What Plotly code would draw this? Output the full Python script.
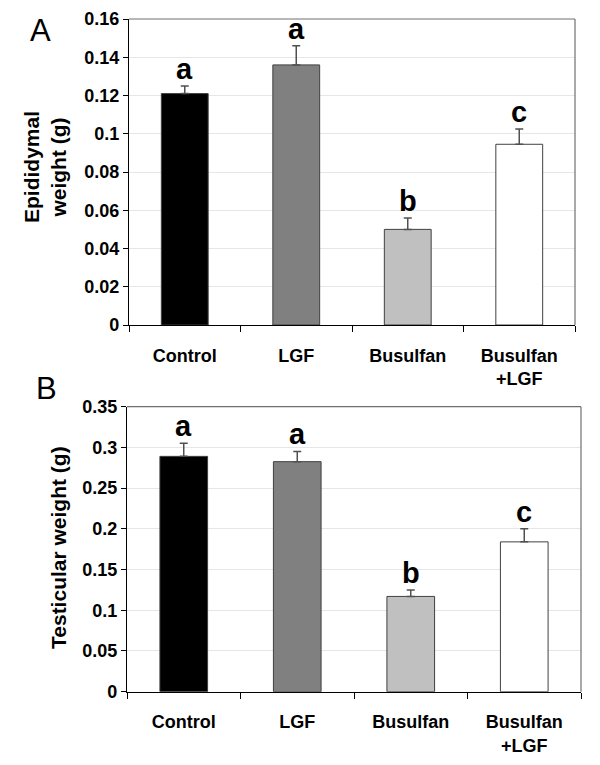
import plotly.graph_objects as go

categories = ["Control", "LGF", "Busulfan", "Busulfan<br>+LGF"]
colors = ["#000000", "#808080", "#c0c0c0", "#ffffff"]

epi_values = [0.121, 0.136, 0.050, 0.0945]
epi_errors = [0.004, 0.010, 0.006, 0.008]
epi_letters = ["a", "a", "b", "c"]

tes_values = [0.289, 0.2825, 0.117, 0.184]
tes_errors = [0.016, 0.0125, 0.008, 0.016]
tes_letters = ["a", "a", "b", "c"]

epi_ticks = [0, 0.02, 0.04, 0.06, 0.08, 0.1, 0.12, 0.14, 0.16]
epi_ticktext = ["0", "0.02", "0.04", "0.06", "0.08", "0.1", "0.12", "0.14", "0.16"]
tes_ticks = [0, 0.05, 0.1, 0.15, 0.2, 0.25, 0.3, 0.35]
tes_ticktext = ["0", "0.05", "0.1", "0.15", "0.2", "0.25", "0.3", "0.35"]

FONT = "Liberation Sans, Arial, sans-serif"
OFF = 8  # page body margin
W, H = 600 - OFF, 765 - OFF

fig = go.Figure()

def add_panel(values, errors, xa, ya):
    fig.add_trace(go.Bar(
        x=categories, y=values,
        marker=dict(color=colors, line=dict(color="#404040", width=1)),
        width=0.42,
        error_y=dict(type="data", array=errors, arrayminus=[0]*len(errors),
                     symmetric=False, color="#505050", thickness=1.5, width=4),
        xaxis=xa, yaxis=ya, showlegend=False,
    ))

add_panel(epi_values, epi_errors, "x", "y")
add_panel(tes_values, tes_errors, "x2", "y2")

def px_x(p):
    return (p - OFF) / W

def px_y(p):
    return 1 - (p - OFF) / H

axis_common = dict(
    showline=True, linecolor="black", linewidth=1.2,
    ticks="outside", tickcolor="black", automargin=False,
    tickfont=dict(family=FONT, size=18, color="black", weight="bold"),
)

fig.update_layout(
    width=W, height=H, margin=dict(l=0, r=0, t=0, b=0),
    paper_bgcolor="white", plot_bgcolor="white",
    bargap=0.58,
    xaxis=dict(domain=[px_x(129), px_x(575)], anchor="y", type="category",
               tickson="boundaries", ticklen=6, ticklabelstandoff=14, **axis_common),
    yaxis=dict(domain=[px_y(325), px_y(19)], anchor="x", range=[0, 0.16],
               tickvals=epi_ticks, ticktext=epi_ticktext, ticklen=5,
               showgrid=True, gridcolor="#e6e6e6", gridwidth=1, zeroline=False,
               **axis_common),
    xaxis2=dict(domain=[px_x(127), px_x(581)], anchor="y2", type="category",
                tickson="boundaries", ticklen=6, ticklabelstandoff=14, **axis_common),
    yaxis2=dict(domain=[px_y(691.7), px_y(406.7)], anchor="x2", range=[0, 0.35],
                tickvals=tes_ticks, ticktext=tes_ticktext, ticklen=5,
                showgrid=True, gridcolor="#e6e6e6", gridwidth=1, zeroline=False,
                **axis_common),
)

# top/right borders in gray
for xr, yr in [("x", "y"), ("x2", "y2")]:
    fig.add_shape(type="line", xref=f"{xr} domain", yref=f"{yr} domain",
                  x0=0, x1=1, y0=1, y1=1, line=dict(color="#707070", width=1.2))
    fig.add_shape(type="line", xref=f"{xr} domain", yref=f"{yr} domain",
                  x0=1, x1=1, y0=0, y1=1, line=dict(color="#707070", width=1.2))

# significance letters
for letters, values, errors, xr, yr in [
    (epi_letters, epi_values, epi_errors, "x", "y"),
    (tes_letters, tes_values, tes_errors, "x2", "y2"),
]:
    for c, l, v, e in zip(categories, letters, values, errors):
        fig.add_annotation(x=c, y=v + e, xref=xr, yref=yr, text=l, showarrow=False,
                           yanchor="bottom", yshift=-1,
                           font=dict(family=FONT, size=29, color="black", weight="bold"))

# panel labels
fig.add_annotation(x=px_x(40), y=px_y(30), xref="paper", yref="paper", text="A",
                   showarrow=False, xanchor="center", yanchor="middle",
                   font=dict(family=FONT, size=31, color="black"))
fig.add_annotation(x=px_x(47), y=px_y(389), xref="paper", yref="paper", text="B",
                   showarrow=False, xanchor="center", yanchor="middle",
                   font=dict(family=FONT, size=31, color="black"))

# y-axis titles
fig.add_annotation(x=px_x(45), y=px_y(167), xref="paper", yref="paper",
                   text="Epididymal<br>weight (g)", textangle=-90, showarrow=False,
                   xanchor="center", yanchor="middle",
                   font=dict(family=FONT, size=21, color="black", weight="bold"))
fig.add_annotation(x=px_x(58), y=px_y(548), xref="paper", yref="paper",
                   text="Testicular weight (g)", textangle=-90, showarrow=False,
                   xanchor="center", yanchor="middle",
                   font=dict(family=FONT, size=21, color="black", weight="bold"))

fig.write_html("out.html")
